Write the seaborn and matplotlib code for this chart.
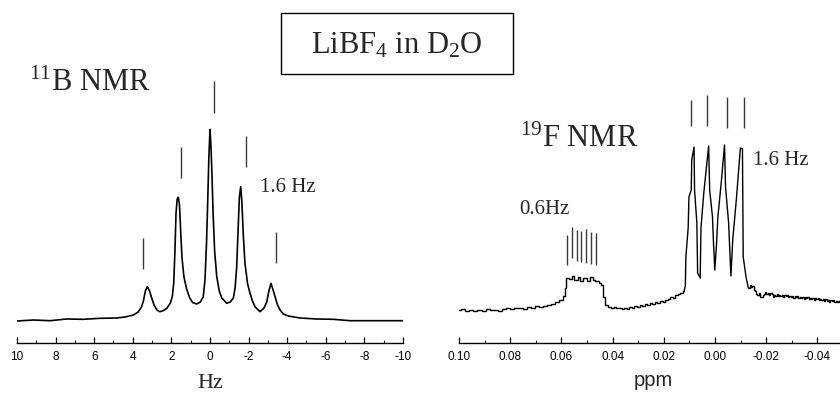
import numpy as np
import pandas as pd
import matplotlib
matplotlib.use("Agg")
import matplotlib.pyplot as plt
from matplotlib.patches import Rectangle
import seaborn as sns

# ---------------- data ----------------
# 11B spectrum: frequency offset (Hz) and intensity (arb. units)
b_hz = [10.0, 9.15, 8.29, 7.43, 6.56, 5.70, 4.84, 4.40, 3.97, 3.72, 3.55, 3.45,
        3.35, 3.25, 3.13, 3.02, 2.90, 2.75, 2.60, 2.40, 2.24, 2.05, 1.95, 1.88,
        1.82, 1.76, 1.70, 1.64, 1.58, 1.52, 1.45, 1.35, 1.21, 1.05, 0.90, 0.69,
        0.50, 0.35, 0.26, 0.18, 0.12, 0.06, 0.00, -0.05, -0.10, -0.16, -0.24,
        -0.35, -0.48, -0.61, -0.87, -1.05, -1.21, -1.30, -1.38, -1.45, -1.52,
        -1.59, -1.65, -1.72, -1.81, -1.95, -2.07, -2.20, -2.33, -2.59, -2.80,
        -2.94, -3.05, -3.16, -3.27, -3.37, -3.50, -3.63, -3.80, -4.06, -4.66,
        -5.53, -6.39, -7.25, -8.12, -8.98, -10.0]
b_int = [22.0, 23.0, 22.3, 24.0, 23.7, 24.7, 25.0, 26.0, 28.0, 31.0, 36.0, 42.0,
         52.0, 56.3, 52.0, 45.0, 38.0, 33.0, 31.3, 32.5, 34.7, 40.0, 47.0, 60.0,
         90.0, 130.0, 144.0, 145.7, 138.0, 112.0, 85.0, 66.0, 54.0, 45.0, 40.5, 39.0,
         41.0, 46.3, 63.0, 100.0, 140.0, 185.0, 213.7, 197.0, 170.0, 130.0, 92.0,
         66.3, 52.0, 45.0, 39.7, 41.0, 45.0, 55.0, 75.0, 110.0, 145.0,
         156.3, 142.0, 110.0, 80.0, 59.0, 50.0, 42.0, 36.3, 31.3, 35.0,
         41.0, 52.0, 59.7, 53.0, 46.3, 38.0, 33.0, 29.0, 27.0, 25.0,
         24.0, 23.7, 22.3, 22.3, 22.3, 22.3]

# 19F spectrum: chemical shift (ppm) and intensity (arb. units)
f_ppm = [0.1000, 0.0984, 0.0968, 0.0952, 0.0936, 0.0920, 0.0904, 0.0888, 0.0872,
         0.0856, 0.0840, 0.0824, 0.0808, 0.0792, 0.0776, 0.0760, 0.0744, 0.0728,
         0.0712, 0.0696, 0.0680, 0.0664, 0.0648, 0.0632, 0.0616, 0.0600, 0.0590,
         0.0584, 0.0578, 0.0566, 0.0555, 0.0543, 0.0531, 0.0520, 0.0508, 0.0496,
         0.0484, 0.0473, 0.0461, 0.0449, 0.0441, 0.0434, 0.0426, 0.0410,
         0.0400, 0.0390, 0.0380, 0.0370, 0.0360, 0.0350, 0.0340, 0.0330, 0.0320,
         0.0310, 0.0300, 0.0290, 0.0280, 0.0270, 0.0260, 0.0250, 0.0240, 0.0230,
         0.0220, 0.0210, 0.0200, 0.0190, 0.0180, 0.0170, 0.0160, 0.0150, 0.0140,
         0.0130, 0.0121,
         # main quartet
         0.0116, 0.0114, 0.0105, 0.0102, 0.0093, 0.0091, 0.0082, 0.0080, 0.0071,
         0.0068, 0.0058, 0.0055, 0.0044, 0.0040, 0.0025, 0.0021, 0.0010, 0.0006,
         0.0001, -0.0006, -0.0011, -0.0024, -0.0037, -0.0041, -0.0053, -0.0062,
         -0.0069, -0.0083, -0.0099, -0.0107, -0.0110, -0.0121, -0.0130,
         # high-field baseline
         -0.0134, -0.0138, -0.0143, -0.0148, -0.0153, -0.0158, -0.0163, -0.0168,
         -0.0173, -0.0178, -0.0183, -0.0188, -0.0193, -0.0198, -0.0203, -0.0208,
         -0.0213, -0.0218, -0.0223, -0.0228, -0.0233, -0.0238, -0.0243, -0.0248,
         -0.0253, -0.0258, -0.0263, -0.0268, -0.0273, -0.0278, -0.0283, -0.0288,
         -0.0293, -0.0298, -0.0303, -0.0308, -0.0313, -0.0318, -0.0323, -0.0328,
         -0.0333, -0.0338, -0.0343, -0.0348, -0.0353, -0.0358, -0.0363, -0.0368,
         -0.0373, -0.0378, -0.0383, -0.0388, -0.0393, -0.0398, -0.0403, -0.0408,
         -0.0413, -0.0418, -0.0423, -0.0428, -0.0433, -0.0438, -0.0443, -0.0448,
         -0.0453, -0.0458, -0.0463, -0.0468, -0.0473, -0.0478, -0.0483, -0.0488]
f_int = [33.0, 34.0, 32.5, 33.5, 32.0, 33.5, 32.5, 34.0, 33.0,
         33.5, 32.5, 34.0, 35.0, 34.0, 35.5, 35.0, 34.5, 36.0,
         35.0, 37.0, 36.0, 37.5, 38.0, 39.5, 41.0, 43.0, 47.0,
         55.0, 65.0, 64.0, 67.0, 63.0, 66.0, 62.0, 65.0, 62.0,
         66.0, 63.0, 62.0, 60.0, 58.0, 46.0, 38.0, 36.0,
         35.0, 36.5, 35.0, 35.5, 34.5, 35.5, 34.5, 36.0, 35.0,
         37.0, 36.0, 38.0, 37.0, 39.0, 38.0, 40.5, 39.5, 41.5,
         40.5, 42.0, 41.0, 43.5, 44.0, 46.0, 45.0, 48.0, 49.0,
         50.5, 52.0,
         57.0, 86.0, 115.0, 146.0, 153.0, 183.0, 196.0, 153.0, 120.0,
         70.0, 65.0, 115.0, 150.0, 160.0, 197.0, 153.0, 126.0, 100.0,
         73.0, 100.0, 126.0, 160.0, 198.0, 156.0, 120.0, 67.0,
         103.0, 143.0, 195.0, 194.0, 86.0, 66.0, 55.0,
         54.7, 58.0, 56.0, 57.5, 53.0, 52.0, 49.0, 48.0,
         50.0, 46.0, 46.5, 48.0, 49.0, 51.0, 49.0, 50.0,
         48.0, 50.5, 49.0, 46.5, 48.0, 47.0, 49.0, 47.5,
         48.5, 47.0, 48.0, 46.5, 48.0, 47.0, 48.5, 46.0,
         47.5, 46.5, 47.0, 45.5, 47.0, 46.0, 47.5, 45.0,
         46.5, 45.5, 46.0, 44.5, 46.0, 45.0, 46.5, 44.5,
         45.5, 44.0, 45.0, 43.5, 45.0, 44.0, 45.0, 43.0,
         44.5, 43.5, 44.0, 42.5, 44.0, 42.0, 43.0, 41.5,
         43.0, 42.0, 43.0, 41.0, 42.5, 41.5, 42.0, 41.0]

# shift window of the main quartet (drawn as a plain trace, rest as steps)
f_quartet_window = (-0.0134, 0.0121)

# multiplet line markers (position, lower end, upper end)
b_mark_pos = [3.47, 1.50, -0.21, -1.87, -3.42]
b_mark_lo = [74, 165, 230, 176, 80]
b_mark_hi = [105, 196, 262, 207, 111]

f_main_pos = [0.0094, 0.0031, -0.0047, -0.0113]
f_main_lo = [217, 217, 215, 215]
f_main_hi = [243, 248, 246, 246]

f_sept_pos = [0.0577, 0.0559, 0.0540, 0.0523, 0.0505, 0.0486, 0.0465]
f_sept_lo = [78, 85, 82, 81, 80, 79, 78]
f_sept_hi = [108, 116, 113, 112, 114, 111, 110]

b_ticks = [10, 8, 6, 4, 2, 0, -2, -4, -6, -8, -10]
f_ticks = [0.10, 0.08, 0.06, 0.04, 0.02, 0.00, -0.02, -0.04]
f_tick_labels = ["0.10", "0.08", "0.06", "0.04", "0.02", "0.00", "-0.02", "-0.04"]

# ---------------- style ----------------
sns.set_theme(style="white")
plt.rcParams["font.family"] = ["Liberation Sans", "DejaVu Sans"]
plt.rcParams["mathtext.fontset"] = "custom"
plt.rcParams["mathtext.rm"] = "Liberation Serif"
plt.rcParams["mathtext.it"] = "Liberation Serif:italic"
plt.rcParams["mathtext.bf"] = "Liberation Serif:bold"
SERIF = ["Liberation Serif", "DejaVu Serif"]

W, H = 840, 394
fig = plt.figure(figsize=(W / 100, H / 100), dpi=100)
fig.patch.set_facecolor("white")


def px_axes(x0, x1, y_axis, height):
    return fig.add_axes([x0 / W, (H - y_axis) / H, (x1 - x0) / W, height / H])


ax_b = px_axes(17, 403, 343, 300)
ax_f = px_axes(459, 840, 343, 300)

df_b = pd.DataFrame({"Hz": b_hz, "I": b_int})
df_f = pd.DataFrame({"ppm": f_ppm, "I": f_int})
lo, hi = f_quartet_window
in_q = (df_f["ppm"] >= lo) & (df_f["ppm"] <= hi)

sns.lineplot(data=df_b, x="Hz", y="I", ax=ax_b, color="black", lw=1.2)
sns.lineplot(data=df_f[df_f["ppm"] >= hi], x="ppm", y="I", ax=ax_f,
             color="black", lw=1.0, drawstyle="steps-mid")
sns.lineplot(data=df_f[df_f["ppm"] <= lo], x="ppm", y="I", ax=ax_f,
             color="black", lw=1.0, drawstyle="steps-mid")
sns.lineplot(data=df_f[in_q], x="ppm", y="I", ax=ax_f, color="black", lw=1.0)

mark_kw = dict(color="#3a3a3a", lw=1.0, clip_on=False)
ax_b.vlines(b_mark_pos, b_mark_lo, b_mark_hi, **mark_kw)
ax_f.vlines(f_main_pos, f_main_lo, f_main_hi, **mark_kw)
ax_f.vlines(f_sept_pos, f_sept_lo, f_sept_hi, **mark_kw)

ax_b.set_xlim(10, -10)
ax_f.set_xlim(0.10, -0.0488)
for ax in (ax_b, ax_f):
    ax.set_ylim(0, 300)
    ax.set_facecolor("none")
    for s in ("left", "right", "top"):
        ax.spines[s].set_visible(False)
    ax.spines["bottom"].set_color("black")
    ax.spines["bottom"].set_linewidth(1.0)
    ax.set_yticks([])
    ax.set_ylabel("")
    ax.set_xlabel("")
    ax.tick_params(axis="x", which="major", direction="in", length=4, width=0.9,
                   pad=6, labelsize=8.5, colors="black", bottom=True)
    ax.tick_params(axis="x", which="minor", direction="in", length=2.5,
                   width=0.8, bottom=True)

ax_b.set_xticks(b_ticks)
ax_b.set_xticklabels([str(t) for t in b_ticks])
ax_b.set_xticks([9, 7, 5, 3, 1, -1, -3, -5, -7, -9], minor=True)
ax_f.set_xticks(f_ticks)
ax_f.set_xticklabels(f_tick_labels)
ax_f.set_xticks([0.09, 0.07, 0.05, 0.03, 0.01, -0.01, -0.03], minor=True)

# ---------------- annotations ----------------
def ftext(x, y, s, **kw):
    fig.text(x / W, 1 - y / H, s, **kw)


ftext(210, 388, "Hz", ha="center", va="baseline", fontsize=16, family=SERIF)
ftext(653, 386, "ppm", ha="center", va="baseline", fontsize=14.5)

ftext(29, 91, r"$^{11}$B NMR", ha="left", va="baseline", fontsize=22, family=SERIF)
ftext(520, 147, r"$^{19}$F NMR", ha="left", va="baseline", fontsize=22, family=SERIF)
ftext(397, 53, r"LiBF$_4$ in D$_2$O", ha="center", va="baseline", fontsize=22,
      family=SERIF)
fig.patches.append(Rectangle((281 / W, 1 - 74 / H), 232 / W, 61 / H,
                             transform=fig.transFigure, fill=False,
                             ec="black", lw=1.0))

ftext(260, 192, "1.6 Hz", ha="left", va="baseline", fontsize=15, family=SERIF)
ftext(753, 165, "1.6 Hz", ha="left", va="baseline", fontsize=15, family=SERIF)
ftext(519, 214, "0.6Hz", ha="left", va="baseline", fontsize=15, family=SERIF)

fig.savefig("out.png", dpi=100, facecolor="white")
